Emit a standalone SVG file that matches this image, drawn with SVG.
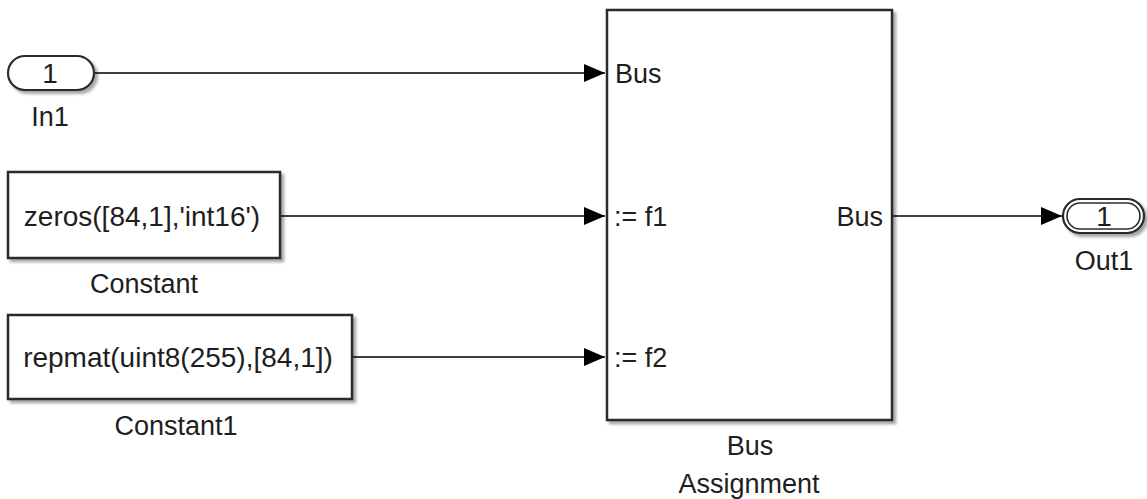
<svg xmlns="http://www.w3.org/2000/svg" width="1147" height="499" viewBox="0 0 1147 499">
<style>
  text { font-family: "Liberation Sans", Arial, sans-serif; font-size: 27px; fill: #1e1e1e; }
  .big { font-size: 28px; }
  .mid { text-anchor: middle; }
  .end { text-anchor: end; }
  .blk { fill: #ffffff; stroke: #2b2b2b; stroke-width: 2.5; filter: url(#sh); }
  .port { fill: #ffffff; stroke: #2b2b2b; stroke-width: 2.2; filter: url(#sh); }
  .portin { fill: none; stroke: #2b2b2b; stroke-width: 1.6; }
  .wire { fill: none; stroke: #000000; stroke-width: 1.5; marker-end: url(#arr); }
</style>
<defs>
  <filter id="sh" x="-10%" y="-10%" width="130%" height="130%">
    <feGaussianBlur in="SourceAlpha" stdDeviation="1.8"/>
    <feOffset dx="3" dy="3" result="b"/>
    <feComponentTransfer><feFuncA type="linear" slope="0.35"/></feComponentTransfer>
    <feMerge><feMergeNode/><feMergeNode in="SourceGraphic"/></feMerge>
  </filter>
  <marker id="arr" markerUnits="userSpaceOnUse" markerWidth="22" markerHeight="18" refX="21" refY="9" orient="auto">
    <path d="M0,0 L21,9 L0,18 Z" fill="#000000"/>
  </marker>
</defs>

<g id="connectors">
  <path class="wire" d="M94,73 H605"/>
  <path class="wire" d="M281,216 H605"/>
  <path class="wire" d="M353,357 H605"/>
  <path class="wire" d="M893,216 H1062"/>
</g>

<g id="In1">
  <rect class="port" x="8" y="56" width="86" height="34" rx="17" ry="17"/>
  <text class="mid big" x="50" y="83">1</text>
  <text class="mid" x="50" y="126">In1</text>
</g>

<g id="Constant">
  <rect class="blk" x="8" y="172" width="272" height="86"/>
  <text class="mid big" x="142" y="226">zeros([84,1],'int16')</text>
  <text class="mid" x="144" y="293">Constant</text>
</g>

<g id="Constant1">
  <rect class="blk" x="8" y="315" width="344" height="84"/>
  <text class="mid big" x="178" y="367">repmat(uint8(255),[84,1])</text>
  <text class="mid" x="176" y="435">Constant1</text>
</g>

<g id="BusAssignment">
  <rect class="blk" x="607" y="10" width="285" height="410"/>
  <text x="615" y="83">Bus</text>
  <text x="614" y="226">:= f1</text>
  <text x="614" y="367">:= f2</text>
  <text class="end" x="883" y="226">Bus</text>
  <text class="mid" x="750" y="455">Bus</text>
  <text class="mid" x="749" y="493">Assignment</text>
</g>

<g id="Out1">
  <rect class="port" x="1063" y="199" width="81" height="34" rx="17" ry="17"/>
  <rect class="portin" x="1067" y="203" width="73" height="26" rx="13" ry="13"/>
  <text class="mid big" x="1104" y="226">1</text>
  <text class="mid" x="1104" y="270">Out1</text>
</g>
</svg>
